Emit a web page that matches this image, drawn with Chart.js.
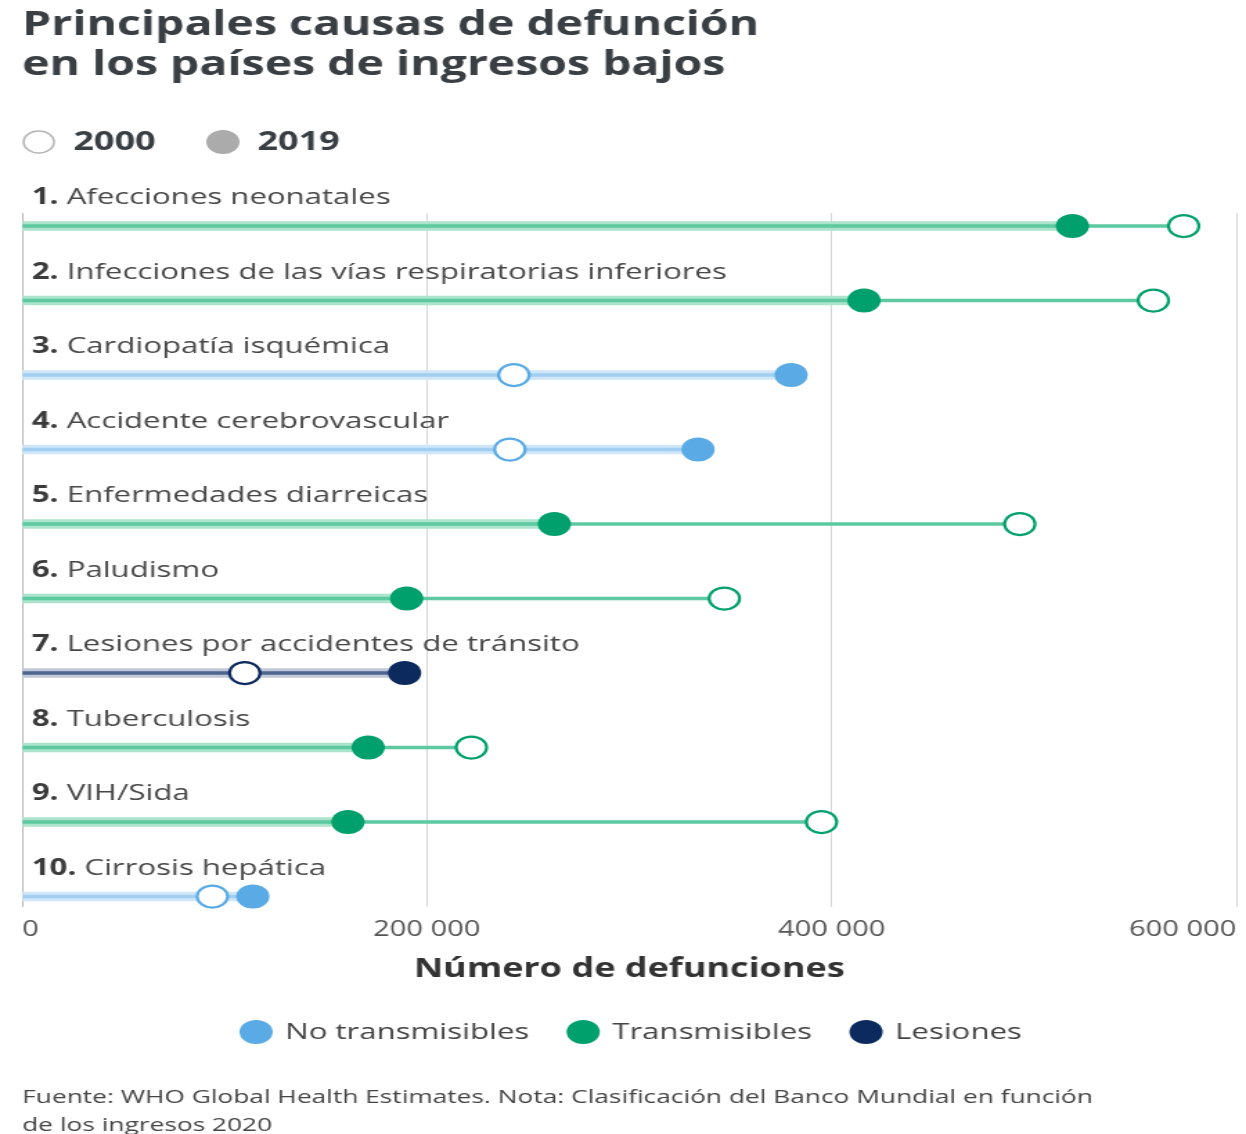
<!DOCTYPE html>
<html>
<head>
<meta charset="utf-8">
<title>Principales causas de defunción</title>
<script src="https://cdn.jsdelivr.net/npm/chart.js@4/dist/chart.umd.min.js"></script>
<style>
	body { margin: 0; background: #fff; }
</style>
</head>
<body>
<!-- el original esta estirado a lo ancho: se dibuja a 900 y se muestra a 1246 -->
<canvas id="chart" width="900" height="1134" style="width:1246px;height:1134px;display:block"></canvas>
<script>
	var causas = [
		"Afecciones neonatales",
		"Infecciones de las vías respiratorias inferiores",
		"Cardiopatía isquémica",
		"Accidente cerebrovascular",
		"Enfermedades diarreicas",
		"Paludismo",
		"Lesiones por accidentes de tránsito",
		"Tuberculosis",
		"VIH/Sida",
		"Cirrosis hepática"
	];
	var muertes2000 = [574000, 559000, 243000, 241000, 493000, 347000, 110000, 222000, 395000, 94000];
	var muertes2019 = [519000, 416000, 380000, 334000, 263000, 190000, 189000, 171000, 161000, 114000];
	var grupos = ["T", "T", "NT", "NT", "T", "T", "L", "T", "T", "NT"];
	var ticksX = [0, 200000, 400000, 600000];

	var nombresGrupo = { NT: "No transmisibles", T: "Transmisibles", L: "Lesiones" };
	var colores = {
		NT: { punto: "#5aabe5", banda: "#cfe6f8", centro: "#a2cff1" },
		T: { punto: "#00a06c", banda: "#ace3cc", centro: "#5cc9a0" },
		L: { punto: "#0c2a5e", banda: "#c0c8d8", centro: "#4e6690" }
	};
	var fuente = "'Open Sans', 'Noto Sans', sans-serif";

	function conEspacios(v) {
		return String(v).replace(/\B(?=(\d{3})+(?!\d))/g, " ");
	}
	function colorDe(clave) {
		return function(c) {
			if (!c.raw) return "rgba(0,0,0,0)";
			return colores[grupos[c.raw.y]][clave];
		};
	}

	var filas = causas.map(function(c, i) { return i; });
	var banda = filas.map(function(i) { return { x: [0, muertes2019[i]], y: i }; });
	var cambio = filas.filter(function(i) { return muertes2000[i] > muertes2019[i]; })
		.map(function(i) { return { x: [muertes2019[i], muertes2000[i]], y: i }; });
	var puntos2000 = filas.map(function(i) { return { x: muertes2000[i], y: i }; });
	var puntos2019 = filas.map(function(i) { return { x: muertes2019[i], y: i }; });

	// nombres de las filas encima de cada linea
	var etiquetasFilas = {
		id: "etiquetasFilas",
		beforeDatasetsDraw: function(chart) {
			var ctx = chart.ctx, y = chart.scales.y;
			ctx.save();
			ctx.textBaseline = "middle";
			ctx.textAlign = "left";
			causas.forEach(function(c, i) {
				var py = y.getPixelForValue(i) - 28;
				var num = (i + 1) + ". ";
				ctx.font = "bold 22.5px " + fuente;
				ctx.fillStyle = "#3b3b3b";
				ctx.fillText(num, 23, py);
				var w = ctx.measureText(num).width;
				ctx.font = "22.5px " + fuente;
				ctx.fillStyle = "#474747";
				ctx.fillText(c, 23 + w, py);
			});
			ctx.restore();
		}
	};

	// leyenda de años arriba, leyenda de grupos y fuente abajo
	var leyendas = {
		id: "leyendas",
		afterDraw: function(chart) {
			var ctx = chart.ctx, area = chart.chartArea;
			ctx.save();
			ctx.textBaseline = "middle";
			ctx.textAlign = "left";

			// 2000 / 2019
			ctx.font = "bold 26px " + fuente;
			ctx.beginPath();
			ctx.arc(28, 142, 11, 0, Math.PI * 2);
			ctx.fillStyle = "#fff";
			ctx.fill();
			ctx.lineWidth = 1.5;
			ctx.strokeStyle = "#b5b5b5";
			ctx.stroke();
			ctx.fillStyle = "#3a3f44";
			ctx.fillText("2000", 53, 143);
			ctx.beginPath();
			ctx.arc(161, 142, 12, 0, Math.PI * 2);
			ctx.fillStyle = "#ababab";
			ctx.fill();
			ctx.fillStyle = "#3a3f44";
			ctx.fillText("2019", 186, 143);

			// grupos
			ctx.font = "22.5px " + fuente;
			var claves = ["NT", "T", "L"];
			var total = 0;
			claves.forEach(function(k, j) {
				total += 12 + 21 + ctx.measureText(nombresGrupo[k]).width;
				if (j < claves.length - 1) total += 27;
			});
			var x = (area.left + area.right) / 2 - total / 2 + 1;
			claves.forEach(function(k) {
				ctx.beginPath();
				ctx.arc(x + 12, 1032, 12, 0, Math.PI * 2);
				ctx.fillStyle = colores[k].punto;
				ctx.fill();
				ctx.fillStyle = "#444";
				ctx.fillText(nombresGrupo[k], x + 12 + 21, 1033);
				x += 12 + 21 + ctx.measureText(nombresGrupo[k]).width + 27;
			});

			// fuente
			ctx.font = "19px " + fuente;
			ctx.fillStyle = "#444";
			ctx.fillText("Fuente: WHO Global Health Estimates. Nota: Clasificación del Banco Mundial en función", 16, 1098);
			ctx.fillText("de los ingresos 2020", 16, 1126);
			ctx.restore();
		}
	};

	var canvas = document.getElementById("chart").getContext("2d");
	window.grafico = new Chart(canvas, {
		type: "bar",
		data: {
			datasets: [
				{
					type: "line",
					label: "2019",
					data: puntos2019,
					showLine: false,
					order: 0,
					clip: false,
					pointRadius: 12,
					pointHoverRadius: 12,
					pointBorderWidth: 0,
					pointBackgroundColor: colorDe("punto"),
					pointBorderColor: colorDe("punto")
				},
				{
					type: "line",
					label: "2000",
					data: puntos2000,
					showLine: false,
					order: 1,
					clip: false,
					pointRadius: 11,
					pointHoverRadius: 11,
					pointBorderWidth: 2.2,
					pointBackgroundColor: "#fff",
					pointBorderColor: colorDe("punto")
				},
				{
					label: "cambio",
					data: cambio,
					order: 2,
					grouped: false,
					barThickness: 3,
					borderWidth: 0,
					backgroundColor: colorDe("centro")
				},
				{
					label: "centro",
					data: banda,
					order: 3,
					grouped: false,
					barThickness: 3,
					borderWidth: 0,
					backgroundColor: colorDe("centro")
				},
				{
					label: "banda",
					data: banda,
					order: 4,
					grouped: false,
					barThickness: 9,
					borderWidth: 0,
					backgroundColor: colorDe("banda")
				}
			]
		},
		options: {
			indexAxis: "y",
			responsive: false,
			devicePixelRatio: 1,
			animation: false,
			layout: { autoPadding: false, padding: { left: 16, right: 7, top: 0, bottom: 149 } },
			scales: {
				x: {
					type: "linear",
					position: "bottom",
					min: 0,
					max: 600000,
					afterBuildTicks: function(scale) {
						scale.ticks = ticksX.map(function(v) { return { value: v }; });
					},
					afterFit: function(scale) {
						scale.paddingLeft = 0;
						scale.paddingRight = 0;
					},
					grid: {
						drawTicks: false,
						color: function(c) { return c.index === 0 ? "#b8b8b8" : "#d6d6d6"; },
						lineWidth: 1
					},
					border: { display: false },
					ticks: {
						align: "inner",
						padding: 11,
						color: "#555",
						font: { family: fuente, size: 21 },
						callback: function(v) { return conEspacios(v); }
					},
					title: {
						display: true,
						text: "Número de defunciones",
						color: "#333",
						font: { family: fuente, size: 26, weight: "bold" },
						padding: { top: 0, bottom: 0 }
					}
				},
				y: {
					type: "linear",
					reverse: true,
					offset: false,
					min: -0.175,
					max: 9.135,
					display: false
				}
			},
			plugins: {
				legend: { display: false },
				tooltip: { enabled: false },
				title: {
					display: true,
					align: "start",
					text: ["Principales causas de defunción", "en los países de ingresos bajos"],
					color: "#3a3f44",
					font: { family: fuente, size: 33.5, weight: "bold", lineHeight: 40 / 33.5 },
					padding: { top: 5, bottom: 128 }
				}
			}
		},
		plugins: [etiquetasFilas, leyendas]
	});
</script>
</body>
</html>
